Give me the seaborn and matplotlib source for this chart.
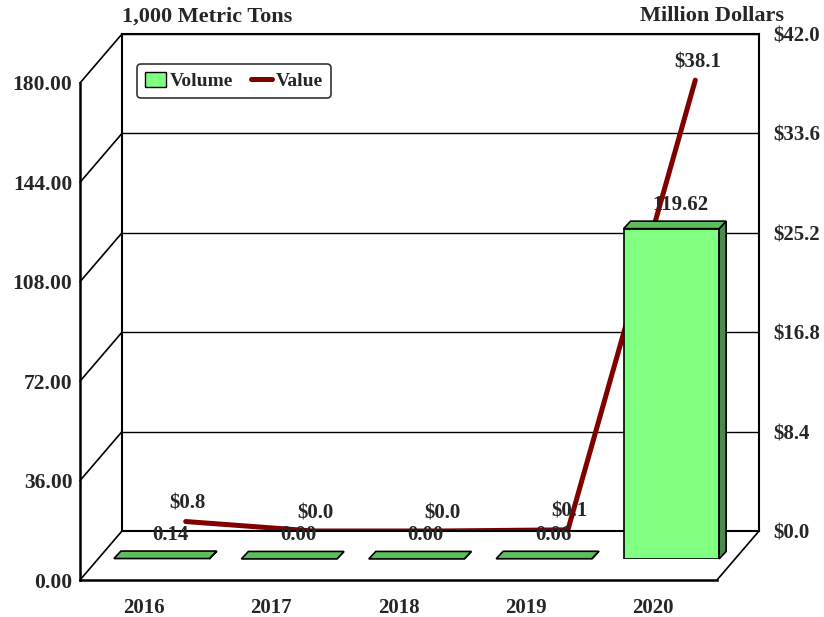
import numpy as np
import matplotlib
matplotlib.use("Agg")
import matplotlib.pyplot as plt
import seaborn as sns
from matplotlib.patches import Polygon, Patch
from matplotlib.lines import Line2D
from matplotlib.ticker import FuncFormatter

# ---- data ----
years = ["2016", "2017", "2018", "2019", "2020"]
volume = [0.14, 0.00, 0.00, 0.06, 119.62]      # 1,000 metric tons
value = [0.8, 0.0, 0.0, 0.1, 38.1]             # million dollars
left_ticks = [0, 36, 72, 108, 144, 180]
right_ticks = [0, 8.4, 16.8, 25.2, 33.6, 42.0]

sns.set_style("white")
plt.rcParams["font.family"] = ["Liberation Serif", "DejaVu Serif"]
plt.rcParams["font.weight"] = "bold"

W, H = 824, 617
fig = plt.figure(figsize=(W / 100, H / 100), dpi=100)
fig.patch.set_facecolor("white")

def fr(x, y, w, h):
    # pixel box (top-left origin) -> figure fraction rect
    return [x / W, (H - y - h) / H, w / W, h / H]

PW, PH = 637, 497          # plane width/height in px
DX, DY = 42, 49            # depth offset front->back in px
FX, FY = 80, 83            # front plane top-left
BAR_D = 0.43               # bar plane depth fraction

ax_back = fig.add_axes(fr(FX + DX, FY - DY, PW, PH))
ax_front = fig.add_axes(fr(FX, FY, PW, PH))
ax_bar = fig.add_axes(fr(FX + DX * BAR_D, FY - DY * BAR_D, PW, PH))
ax_back.set_zorder(0)
ax_front.set_zorder(1)
ax_bar.set_zorder(2)

n = len(years)
pos = np.arange(n)

# ---- back wall (value axis) ----
ax_back.set_facecolor("white")
ax_back.set_xlim(-0.5, n - 0.5)
ax_back.set_ylim(0, 42)
ax_back.set_yticks(right_ticks)
ax_back.yaxis.tick_right()
ax_back.yaxis.set_major_formatter(FuncFormatter(lambda v, p: f"${v:.1f}"))
ax_back.tick_params(axis="y", length=0, pad=10.5, labelsize=15)
ax_back.set_xticks([])
ax_back.grid(axis="y", color="black", lw=1.0)
ax_back.grid(axis="x", visible=False)
for s in ax_back.spines.values():
    s.set_visible(True)
    s.set_color("black")
    s.set_linewidth(1.5)

sns.lineplot(x=pos, y=value, ax=ax_back, color="#800000", lw=3.6, legend=False)
ax_back.set_xlim(-0.5, n - 0.5)
ax_back.set_ylim(0, 42)
ax_back.set_xlabel("")
ax_back.set_ylabel("")
for i, v in enumerate(value):
    ax_back.annotate(f"${v:.1f}", (pos[i], v), xytext=(2, 18), textcoords="offset pixels",
                     ha="center", va="center", fontsize=15, fontweight="bold", zorder=5)

# ---- front plane (volume axis) ----
ax_front.patch.set_visible(False)
ax_front.set_xlim(-0.5, n - 0.5)
ax_front.set_ylim(0, 180)
ax_front.set_yticks(left_ticks)
ax_front.yaxis.set_major_formatter(FuncFormatter(lambda v, p: f"{v:.2f}"))
ax_front.set_xticks(pos)
ax_front.set_xticklabels(years)
ax_front.tick_params(axis="y", length=0, pad=5.5, labelsize=15.5)
ax_front.tick_params(axis="x", length=0, pad=13, labelsize=15)
ax_front.grid(False)
for k in ["top", "right"]:
    ax_front.spines[k].set_visible(False)
for k in ["left", "bottom"]:
    ax_front.spines[k].set_color("black")
    ax_front.spines[k].set_linewidth(1.8)

# left wall diagonals and floor edges
inv = fig.transFigure.inverted()
def to_fig(ax, pt):
    return inv.transform(ax.transAxes.transform(pt))
for t in left_ticks:
    f = t / 180
    p0 = to_fig(ax_front, (0, f))
    p1 = to_fig(ax_back, (0, f))
    fig.add_artist(Line2D([p0[0], p1[0]], [p0[1], p1[1]], color="black", lw=1.2,
                          transform=fig.transFigure, zorder=1.5))
p0 = to_fig(ax_front, (1, 0))
p1 = to_fig(ax_back, (1, 0))
fig.add_artist(Line2D([p0[0], p1[0]], [p0[1], p1[1]], color="black", lw=1.2,
                      transform=fig.transFigure, zorder=1.5))

# ---- bars ----
ax_bar.patch.set_visible(False)
sns.barplot(x=years, y=volume, ax=ax_bar, color="#80FF80", edgecolor="black",
            linewidth=1.2, width=0.75, saturation=1)
ax_bar.set_xlim(-0.5, n - 0.5)
ax_bar.set_ylim(0, 180)
ax_bar.axis("off")
ddx = 7 / (PW / n)
ddy = 7.5 / (PH / 180)
for p in list(ax_bar.patches):
    x0 = p.get_x()
    x1 = x0 + p.get_width()
    h = p.get_height()
    top = Polygon([(x0, h), (x1, h), (x1 + ddx, h + ddy), (x0 + ddx, h + ddy)],
                  closed=True, facecolor="#5CBF5C", edgecolor="black", lw=1.2, clip_on=False)
    side = Polygon([(x1, 0), (x1, h), (x1 + ddx, h + ddy), (x1 + ddx, ddy)],
                   closed=True, facecolor="#4A8A4A", edgecolor="black", lw=1.2, clip_on=False)
    ax_bar.add_patch(side)
    ax_bar.add_patch(top)
    ax_bar.annotate(f"{h:.2f}", (x0 + p.get_width() / 2, h), xytext=(9, 24),
                    textcoords="offset pixels", ha="center", va="center",
                    fontsize=15, fontweight="bold", zorder=6)

# ---- titles ----
fig.text(122 / W, 1 - 17 / H, "1,000 Metric Tons", ha="left", va="center",
         fontsize=16, fontweight="bold")
fig.text(784 / W, 1 - 16 / H, "Million Dollars", ha="right", va="center",
         fontsize=16, fontweight="bold")

# ---- legend ----
handles = [Patch(facecolor="#80FF80", edgecolor="black", lw=1.0, label="Volume"),
           Line2D([0], [0], color="#800000", lw=3.6, label="Value")]
leg = fig.legend(handles=handles, loc="upper left", bbox_to_anchor=(137 / W, 1 - 64 / H),
                 ncol=2, frameon=True, fancybox=True, fontsize=14, handlelength=1.1,
                 handleheight=0.8, handletextpad=0.2, columnspacing=0.9, borderpad=0.4,
                 borderaxespad=0)
leg.get_frame().set_edgecolor("black")
leg.get_frame().set_linewidth(1.2)
leg.set_zorder(10)
for t in leg.get_texts():
    t.set_fontweight("bold")

fig.savefig("out.png", dpi=100)
